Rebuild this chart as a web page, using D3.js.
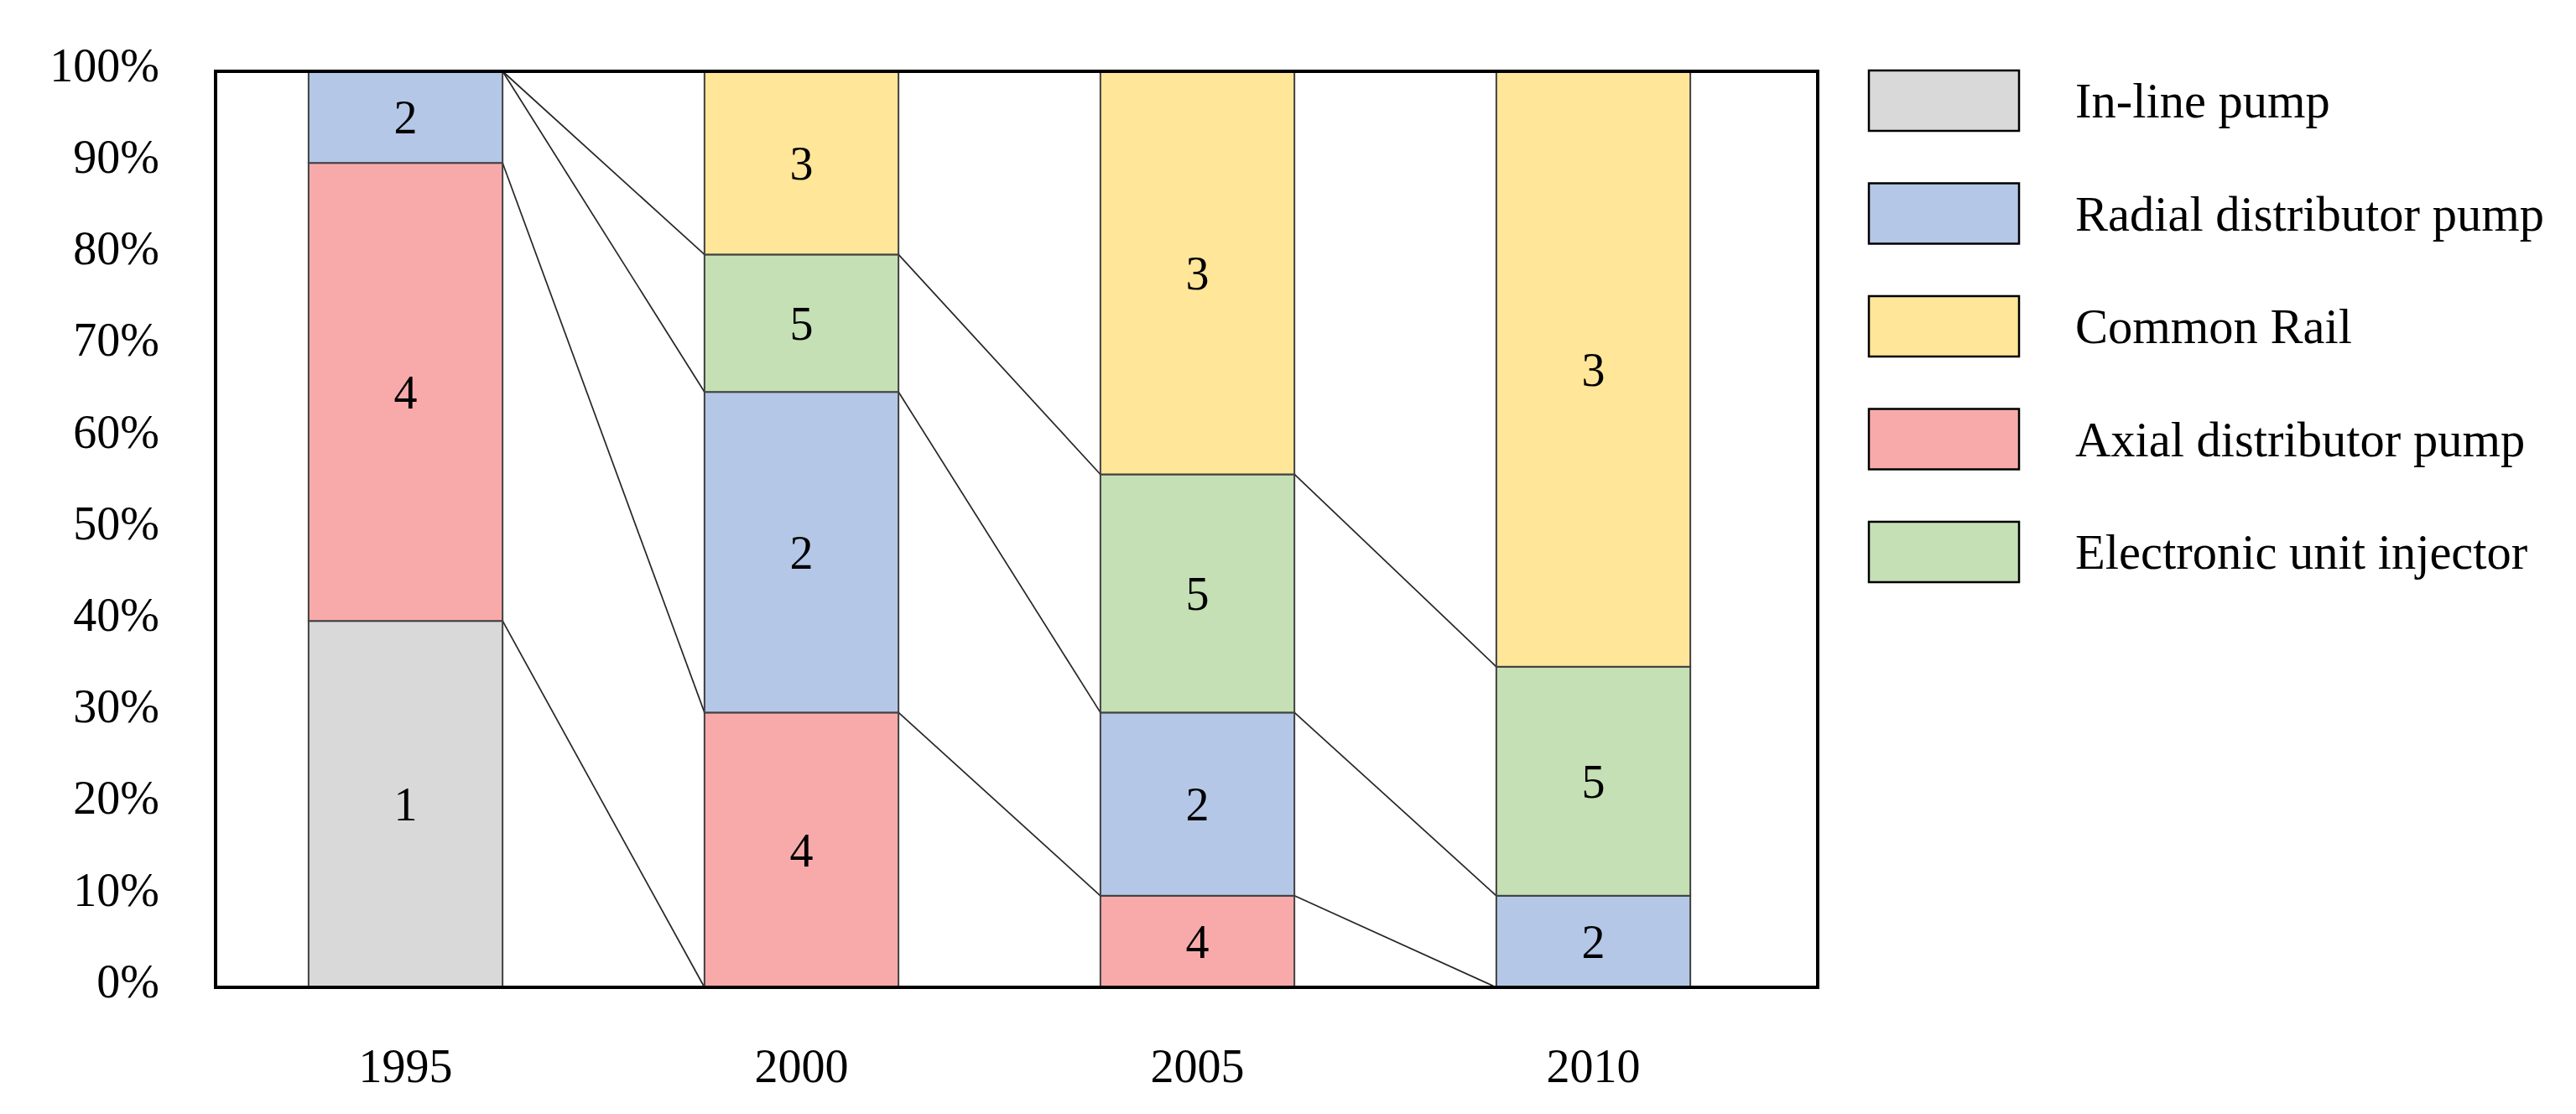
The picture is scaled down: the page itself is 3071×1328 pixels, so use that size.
<!DOCTYPE html>
<html>
<head>
<meta charset="utf-8">
<script src="https://cdn.jsdelivr.net/npm/d3@7"></script>
<style>
html,body{margin:0;padding:0;background:#fff;}
svg{display:block;}
text{font-family:"Liberation Serif","Times New Roman",serif;fill:#000;}
</style>
</head>
<body>
<svg id="chart" width="3071" height="1328"></svg>
<script>
// ---- data ----
const years = ["1995", "2000", "2005", "2010"];
const seriesNames = ["In-line pump", "Axial distributor pump", "Radial distributor pump", "Electronic unit injector", "Common Rail"];
const seriesLabels = ["1", "4", "2", "5", "3"];
const inLine = [40, 0, 0, 0];
const axial = [50, 30, 10, 0];
const radial = [10, 35, 20, 10];
const electronic = [0, 15, 26, 25];
const commonRail = [0, 20, 44, 65];
const legendOrder = ["In-line pump", "Radial distributor pump", "Common Rail", "Axial distributor pump", "Electronic unit injector"];
const yTicks = [0, 0.1, 0.2, 0.3, 0.4, 0.5, 0.6, 0.7, 0.8, 0.9, 1.0];

const colors = {
  "In-line pump": "#D9D9D9",
  "Axial distributor pump": "#F8AAAA",
  "Radial distributor pump": "#B4C7E7",
  "Electronic unit injector": "#C5E0B4",
  "Common Rail": "#FFE699"
};

// ---- build table ----
const seriesValues = [inLine, axial, radial, electronic, commonRail];
const table = years.map((y, i) => {
  const row = {year: y};
  seriesNames.forEach((n, k) => row[n] = seriesValues[k][i] / 100);
  return row;
});
const stack = d3.stack().keys(seriesNames)(table);

// ---- layout ----
const svg = d3.select("#chart");
const frame = {left: 257, right: 2167, top: 85, bottom: 1177};

const x = d3.scaleBand().domain(years).range([247.5, 2135.5]).paddingInner(0.51).paddingOuter(0.255);
const y = d3.scaleLinear().domain([0, 1]).range([frame.bottom, frame.top]);

// frame background
svg.append("rect")
  .attr("x", frame.left).attr("y", frame.top)
  .attr("width", frame.right - frame.left).attr("height", frame.bottom - frame.top)
  .attr("fill", "#fff");

// series lines
const lineG = svg.append("g");
stack.forEach(s => {
  for (let i = 0; i < years.length - 1; i++) {
    lineG.append("line")
      .attr("x1", x(years[i]) + x.bandwidth())
      .attr("y1", y(s[i][1]))
      .attr("x2", x(years[i + 1]))
      .attr("y2", y(s[i + 1][1]))
      .attr("stroke", "#262626")
      .attr("stroke-width", 1.7);
  }
});

// bars
const barG = svg.append("g");
stack.forEach((s, k) => {
  s.forEach((d, i) => {
    if (d[1] - d[0] <= 0) return;
    barG.append("rect")
      .attr("x", x(years[i]))
      .attr("y", y(d[1]))
      .attr("width", x.bandwidth())
      .attr("height", y(d[0]) - y(d[1]))
      .attr("fill", colors[s.key])
      .attr("stroke", "#404040")
      .attr("stroke-width", 2);
  });
});
// bar labels
stack.forEach((s, k) => {
  s.forEach((d, i) => {
    if (d[1] - d[0] <= 0) return;
    barG.append("text")
      .attr("x", x(years[i]) + x.bandwidth() / 2)
      .attr("y", y((d[0] + d[1]) / 2))
      .attr("dy", "0.35em")
      .attr("text-anchor", "middle")
      .attr("font-size", 56)
      .text(seriesLabels[k]);
  });
});

// frame border
svg.append("rect")
  .attr("x", frame.left).attr("y", frame.top)
  .attr("width", frame.right - frame.left).attr("height", frame.bottom - frame.top)
  .attr("fill", "none").attr("stroke", "#000").attr("stroke-width", 4);

// y axis
const yAxis = svg.append("g")
  .attr("transform", `translate(${frame.left - 67},0)`)
  .call(d3.axisLeft(y).tickValues(yTicks).tickFormat(d3.format(".0%")).tickSize(0).tickPadding(0));
yAxis.select(".domain").remove();
yAxis.selectAll("text")
  .attr("font-size", 56)
  .attr("font-family", "Liberation Serif, Times New Roman, serif")
  .attr("dy", "0.2em");

// x axis
const xAxis = svg.append("g")
  .attr("transform", `translate(0,${frame.bottom})`)
  .call(d3.axisBottom(x).tickSize(0).tickPadding(0));
xAxis.select(".domain").remove();
xAxis.selectAll("text")
  .attr("font-size", 56)
  .attr("font-family", "Liberation Serif, Times New Roman, serif")
  .attr("dy", "0")
  .attr("y", 113);

// legend
const leg = svg.append("g");
const legY = d3.scalePoint().domain(legendOrder).range([120, 658]);
legendOrder.forEach(n => {
  leg.append("rect")
    .attr("x", 2228).attr("y", legY(n) - 36)
    .attr("width", 179).attr("height", 72)
    .attr("fill", colors[n]).attr("stroke", "#000").attr("stroke-width", 2.5);
  leg.append("text")
    .attr("x", 2474).attr("y", legY(n))
    .attr("dy", "0.35em")
    .attr("font-size", 58.5)
    .text(n);
});
</script>
</body>
</html>
